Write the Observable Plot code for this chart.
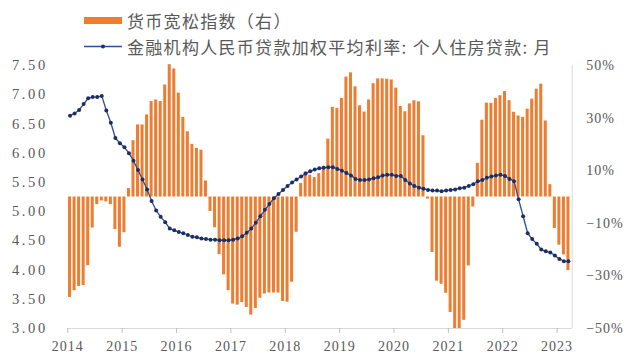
<!DOCTYPE html>
<html><head><meta charset="utf-8">
<script src="https://cdn.jsdelivr.net/npm/d3@7"></script>
<script src="https://cdn.jsdelivr.net/npm/@observablehq/plot@0.6"></script>
<style>
body{margin:0;background:#fff}
svg text{letter-spacing:1px}
</style>
</head><body><div id="chart"></div>
<script>
// Monthly data, Jan 2014 – Mar 2023
const years = ["2014","2015","2016","2017","2018","2019","2020","2021","2022","2023"];
// 货币宽松指数（右）, %
const easing = [
 -38.2,-35.6,-34,-33.7,-26.1,-11.8,-2.9,-1.5,-1.9,-2.9,-12.4,-19.1,
 -13.6,3.2,21.4,27.4,27.4,31.2,36.3,36.9,36.3,42.6,50.3,48.7,
 39.5,30.3,24.8,20,18.5,17.8,6.1,-5.5,-11.7,-21.9,-29.6,-35.6,
 -40.7,-41.1,-40.1,-42,-44.9,-42.4,-38.5,-36.9,-36.5,-36.5,-36.5,-39.7,
 -40,-32.4,-13.4,5.1,9.5,8.3,7.4,8.9,11.7,22,34.1,33.7,
 37.5,45.6,47.2,41.9,34.7,32.3,36.9,43.1,44.9,44.9,44.8,44.5,
 41.4,34.4,32.4,35.4,36.6,36.2,23.3,-0.8,-21.1,-32,-33.2,-36.6,
 -43.9,-50,-50,-46.9,-26.2,-3.8,12.8,29.2,35.7,35.6,37.5,38.5,
 40.1,36.6,32.2,30.8,30.3,33.4,37.2,41,42.9,28.9,4.7,-12,
 -18.3,-22,-28
];
// 金融机构人民币贷款加权平均利率: 个人住房贷款: 月, %
const rate = [
 6.64,6.68,6.74,6.84,6.94,6.96,6.96,6.98,6.73,6.52,6.26,6.17,
 6.10,6.00,5.87,5.71,5.55,5.38,5.18,5.02,4.91,4.82,4.71,4.68,
 4.65,4.63,4.60,4.57,4.56,4.54,4.53,4.52,4.52,4.51,4.51,4.51,
 4.52,4.54,4.58,4.64,4.71,4.81,4.92,5.03,5.13,5.23,5.30,5.37,
 5.44,5.50,5.55,5.60,5.65,5.69,5.72,5.74,5.75,5.76,5.76,5.73,
 5.70,5.66,5.62,5.56,5.54,5.54,5.55,5.57,5.59,5.62,5.63,5.63,
 5.61,5.61,5.54,5.48,5.44,5.41,5.39,5.37,5.36,5.36,5.35,5.36,
 5.37,5.38,5.40,5.41,5.44,5.47,5.52,5.54,5.58,5.60,5.62,5.63,
 5.61,5.56,5.52,5.21,4.92,4.63,4.53,4.45,4.35,4.32,4.30,4.25,
 4.19,4.15,4.15
];
const rateTicks = [3.0,3.5,4.0,4.5,5.0,5.5,6.0,6.5,7.0,7.5];
const pctTicks = [50,30,10,-10,-30,-50];

const X_MAX = 111.33;
const BASE = 5.25, K = 0.045;           // right axis: 0% ↔ 5.25, ±50% ↔ 7.5 / 3.0
const toLeft = p => BASE + p * K;
const data = easing.map((b, i) => ({i, b, r: rate[i]}));

const plot = Plot.plot({
  width: 630, height: 360,
  marginLeft: 67.3, marginRight: 58.3, marginTop: 65, marginBottom: 32,
  style: {fontFamily: "'Liberation Serif', serif", fontSize: "14px", color: "#595959", background: "#fff", overflow: "visible"},
  x: {domain: [0, X_MAX], label: null},
  y: {domain: [3, 7.5], label: null},
  marks: [
    Plot.rect(data, {x1: d => d.i, x2: d => d.i + 1, y1: () => BASE, y2: d => toLeft(d.b),
      fill: "#ED7D31", insetLeft: 0.75, insetRight: 0.75}),
    Plot.ruleY([3], {stroke: "#d9d9d9", strokeWidth: 1}),
    Plot.ruleX([X_MAX], {stroke: "#d9d9d9", strokeWidth: 1}),
    Plot.axisX(years.map((_, k) => k * 12), {tickFormat: d => years[Math.round(d / 12)],
      tickSize: 5, tickPadding: 8, stroke: "#bfbfbf", fill: "#595959"}),
    Plot.axisY(rateTicks, {anchor: "left", tickSize: 0, tickPadding: 20,
      tickFormat: d => d.toFixed(2), fill: "#595959", fontSize: 14.5}),
    Plot.axisY(pctTicks.map(toLeft), {anchor: "right", tickSize: 0, tickPadding: 14,
      tickFormat: d => { const p = Math.round((d - BASE) / K); return (p < 0 ? "−" + (-p) : p) + "%"; },
      fill: "#595959", textAnchor: "start"}),
    Plot.line(data, {x: d => d.i + 0.5, y: "r", stroke: "#2E4F8F", strokeWidth: 1.3}),
    Plot.dot(data, {x: d => d.i + 0.5, y: "r", r: 2, fill: "#1B2F66", stroke: "none"})
  ]
});

const svg = d3.select(plot);
// widen the left-axis numerals like the reference
svg.selectAll("text").filter(function() { return /^\d\.\d\d$/.test(this.textContent); })
  .style("letter-spacing", "2.6px");

const lg = svg.append("g").attr("font-family", "'Noto Sans CJK SC', sans-serif")
  .attr("font-size", 17).attr("fill", "#595959").attr("text-anchor", "start");
lg.append("rect").attr("x", 84).attr("y", 17).attr("width", 38).attr("height", 7).attr("fill", "#ED7D31");
lg.append("text").attr("x", 127).attr("y", 20.5).attr("dominant-baseline", "central")
  .attr("text-anchor", "start").style("letter-spacing", "1.3px").text("货币宽松指数（右）");
lg.append("line").attr("x1", 84).attr("x2", 122).attr("y1", 46.5).attr("y2", 46.5)
  .attr("stroke", "#2E4F8F").attr("stroke-width", 1.3);
lg.append("circle").attr("cx", 103).attr("cy", 46.5).attr("r", 2).attr("fill", "#1B2F66");
lg.append("text").attr("x", 127).attr("y", 46.5).attr("dominant-baseline", "central")
  .attr("text-anchor", "start").style("letter-spacing", "1.3px").text("金融机构人民币贷款加权平均利率: 个人住房贷款: 月");

document.getElementById("chart").appendChild(plot);
</script>
</body></html>
